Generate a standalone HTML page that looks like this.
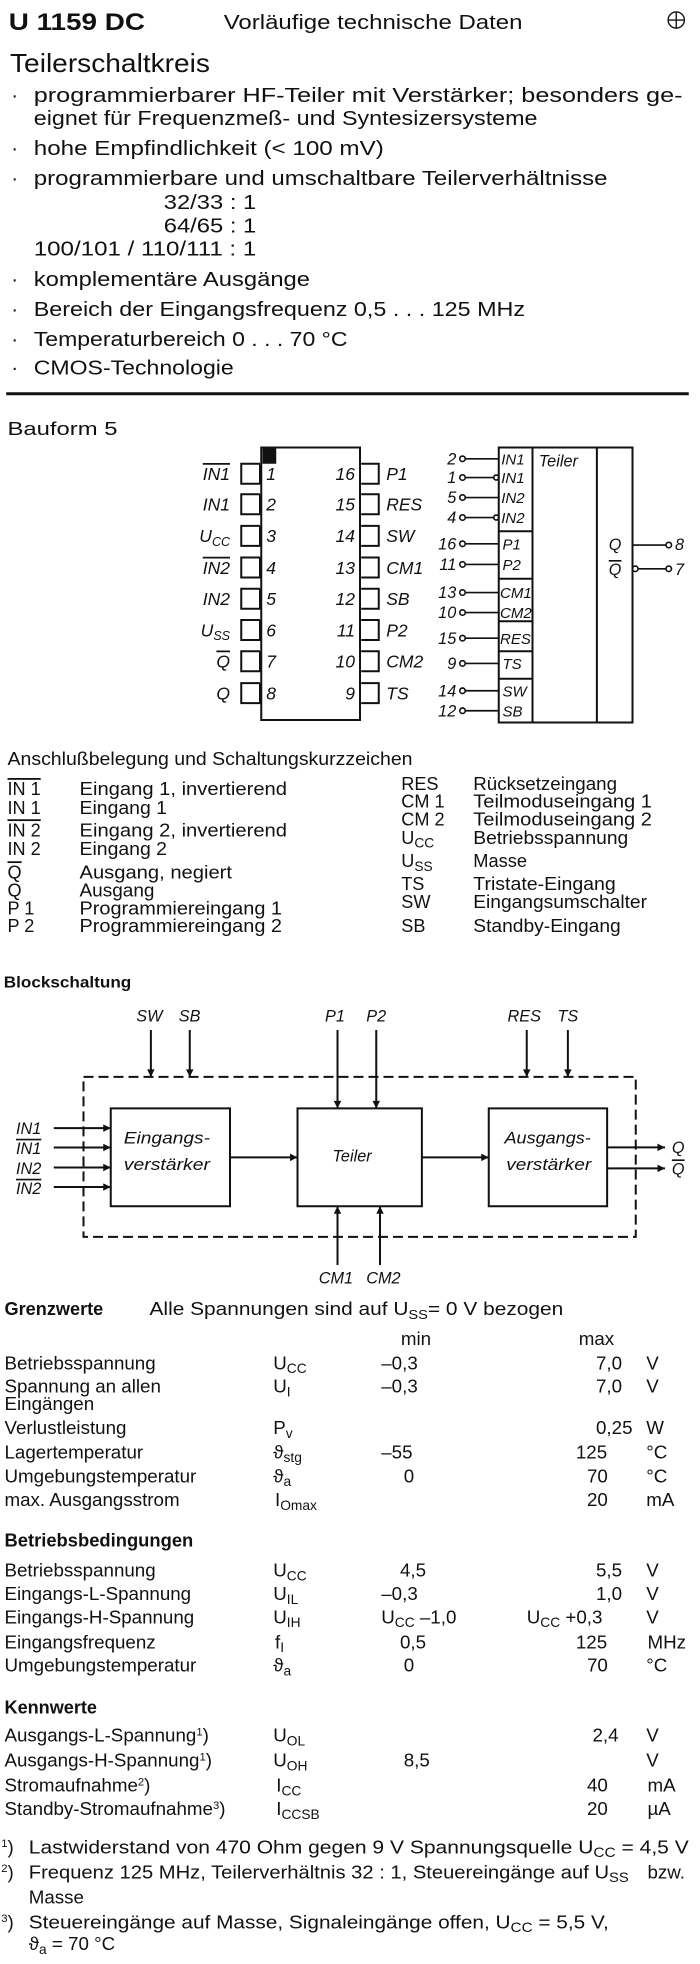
<!DOCTYPE html>
<html><head><meta charset="utf-8"><style>
html,body{margin:0;padding:0;background:#fff}
svg{display:block}
text{font-family:"Liberation Sans",sans-serif;fill:#111}
.i{font-style:italic}
.b{font-weight:bold}
.ov{text-decoration:overline}
</style></head><body>
<svg width="700" height="1964" viewBox="0 0 560 1571.2" xmlns="http://www.w3.org/2000/svg">
<defs>
<marker id="ar" viewBox="0 0 10 10" refX="10" refY="5" markerWidth="9" markerHeight="6" markerUnits="userSpaceOnUse" orient="auto"><path d="M0,0 L10,5 L0,10 z" fill="#111"/></marker>
</defs>
<!-- Header -->
<text x="7" y="24" class="b" font-size="19" textLength="109" lengthAdjust="spacingAndGlyphs">U 1159 DC</text>
<text x="179" y="23" font-size="16" textLength="239" lengthAdjust="spacingAndGlyphs">Vorläufige technische Daten</text>
<circle cx="541" cy="16" r="6.5" fill="none" stroke="#111" stroke-width="1.1"/>
<line x1="534.5" y1="16" x2="547.5" y2="16" stroke="#111" stroke-width="1.1"/>
<line x1="541" y1="9.5" x2="541" y2="22.5" stroke="#111" stroke-width="1.1"/>
<text x="8" y="57.5" font-size="21" textLength="160" lengthAdjust="spacingAndGlyphs">Teilerschaltkreis</text>
<g font-size="16.5">
<text x="9" y="81.5">·</text><text x="27" y="81.5" textLength="519" lengthAdjust="spacingAndGlyphs">programmierbarer HF-Teiler mit Verstärker; besonders ge-</text>
<text x="27" y="100" textLength="403" lengthAdjust="spacingAndGlyphs">eignet für Frequenzmeß- und Syntesizersysteme</text>
<text x="9" y="124">·</text><text x="27" y="124" textLength="280" lengthAdjust="spacingAndGlyphs">hohe Empfindlichkeit (&lt; 100 mV)</text>
<text x="9" y="148">·</text><text x="27" y="148" textLength="459" lengthAdjust="spacingAndGlyphs">programmierbare und umschaltbare Teilerverhältnisse</text>
<text x="131" y="167" textLength="74" lengthAdjust="spacingAndGlyphs">32/33 : 1</text>
<text x="131" y="186" textLength="74" lengthAdjust="spacingAndGlyphs">64/65 : 1</text>
<text x="27" y="204.5" textLength="178" lengthAdjust="spacingAndGlyphs">100/101 / 110/111 : 1</text>
<text x="9" y="228.6">·</text><text x="27" y="228.6" textLength="221" lengthAdjust="spacingAndGlyphs">komplementäre Ausgänge</text>
<text x="9" y="252.7">·</text><text x="27" y="252.7" textLength="393" lengthAdjust="spacingAndGlyphs">Bereich der Eingangsfrequenz 0,5 . . . 125 MHz</text>
<text x="9" y="276.7">·</text><text x="27" y="276.7" textLength="251" lengthAdjust="spacingAndGlyphs">Temperaturbereich 0 . . . 70 °C</text>
<text x="9" y="299.5">·</text><text x="27" y="299.5" textLength="160" lengthAdjust="spacingAndGlyphs">CMOS-Technologie</text>
</g>
<line x1="5" y1="315" x2="551" y2="315" stroke="#111" stroke-width="2.4"/>

<!-- Bauform -->
<text x="6" y="348" font-size="15" textLength="88" lengthAdjust="spacingAndGlyphs">Bauform 5</text>
<g stroke="#111" stroke-width="1.6" fill="none">
<rect x="209" y="358" width="79" height="218"/>
<path d="M208,371V387H193V371H208M208,395.4V411.4H193V395.4H208M208,420.7V436.7H193V420.7H208M208,446V462H193V446H208M208,471V487H193V471H208M208,496V512H193V496H208M208,521V537H193V521H208M208,546.5V562.5H193V546.5H208"/>
<path d="M289,371H303V387H289M289,395.4H303V411.4H289M289,420.7H303V436.7H289M289,446H303V462H289M289,471H303V487H289M289,496H303V512H289M289,521H303V537H289M289,546.5H303V562.5H289"/>
</g>
<rect x="210" y="358" width="11" height="13" fill="#111"/>
<g font-size="14" class="i">
<text x="184" y="384" text-anchor="end" class="ov">IN1</text>
<text x="184" y="408.4" text-anchor="end">IN1</text>
<text x="184" y="433.7" text-anchor="end">U<tspan font-size="10" dy="3">CC</tspan></text>
<text x="184" y="459" text-anchor="end" class="ov">IN2</text>
<text x="184" y="484" text-anchor="end">IN2</text>
<text x="184" y="509" text-anchor="end">U<tspan font-size="10" dy="3">SS</tspan></text>
<text x="184" y="534" text-anchor="end" class="ov">Q</text>
<text x="184" y="559.5" text-anchor="end">Q</text>
<text x="213" y="384">1</text><text x="213" y="408.4">2</text><text x="213" y="433.7">3</text><text x="213" y="459">4</text>
<text x="213" y="484">5</text><text x="213" y="509">6</text><text x="213" y="534">7</text><text x="213" y="559.5">8</text>
<text x="284" y="384" text-anchor="end">16</text><text x="284" y="408.4" text-anchor="end">15</text><text x="284" y="433.7" text-anchor="end">14</text><text x="284" y="459" text-anchor="end">13</text>
<text x="284" y="484" text-anchor="end">12</text><text x="284" y="509" text-anchor="end">11</text><text x="284" y="534" text-anchor="end">10</text><text x="284" y="559.5" text-anchor="end">9</text>
<text x="309" y="384">P1</text><text x="309" y="408.4">RES</text><text x="309" y="433.7">SW</text><text x="309" y="459">CM1</text>
<text x="309" y="484">SB</text><text x="309" y="509">P2</text><text x="309" y="534">CM2</text><text x="309" y="559.5">TS</text>
</g>

<!-- Logic symbol -->
<g stroke="#111" stroke-width="1.6" fill="none">
<rect x="399" y="358" width="107" height="220"/>
<line x1="426" y1="358" x2="426" y2="578"/>
<line x1="477.5" y1="358" x2="477.5" y2="578"/>
<line x1="399" y1="425" x2="426" y2="425"/>
<line x1="399" y1="463" x2="426" y2="463"/>
<line x1="399" y1="497" x2="426" y2="497"/>
<line x1="399" y1="521" x2="426" y2="521"/>
<line x1="399" y1="543" x2="426" y2="543"/>
<g stroke-width="1.3">
<circle cx="370" cy="367" r="2.2"/><line x1="372.2" y1="367" x2="399" y2="367"/>
<circle cx="370" cy="382" r="2.2"/><line x1="372.2" y1="382" x2="395" y2="382"/><circle cx="397" cy="382" r="2"/>
<circle cx="370" cy="398" r="2.2"/><line x1="372.2" y1="398" x2="399" y2="398"/>
<circle cx="370" cy="414" r="2.2"/><line x1="372.2" y1="414" x2="395" y2="414"/><circle cx="397" cy="414" r="2"/>
<circle cx="370" cy="435" r="2.2"/><line x1="372.2" y1="435" x2="399" y2="435"/>
<circle cx="370" cy="451.5" r="2.2"/><line x1="372.2" y1="451.5" x2="399" y2="451.5"/>
<circle cx="370" cy="474" r="2.2"/><line x1="372.2" y1="474" x2="399" y2="474"/>
<circle cx="370" cy="490" r="2.2"/><line x1="372.2" y1="490" x2="399" y2="490"/>
<circle cx="370" cy="510.5" r="2.2"/><line x1="372.2" y1="510.5" x2="399" y2="510.5"/>
<circle cx="370" cy="530.7" r="2.2"/><line x1="372.2" y1="530.7" x2="399" y2="530.7"/>
<circle cx="370" cy="552.6" r="2.2"/><line x1="372.2" y1="552.6" x2="399" y2="552.6"/>
<circle cx="370" cy="568.6" r="2.2"/><line x1="372.2" y1="568.6" x2="399" y2="568.6"/>
<line x1="506" y1="436" x2="532.8" y2="436"/><circle cx="535" cy="436" r="2.2"/>
<circle cx="508.2" cy="455" r="2.2"/><line x1="510.4" y1="455" x2="532.8" y2="455"/><circle cx="535" cy="455" r="2.2"/>
</g>
</g>
<g font-size="13" class="i">
<text x="365" y="371.5" text-anchor="end">2</text><text x="365" y="386.5" text-anchor="end">1</text>
<text x="365" y="402.5" text-anchor="end">5</text><text x="365" y="418.5" text-anchor="end">4</text>
<text x="365" y="439.5" text-anchor="end">16</text><text x="365" y="456" text-anchor="end">11</text>
<text x="365" y="478.5" text-anchor="end">13</text><text x="365" y="494.5" text-anchor="end">10</text>
<text x="365" y="515" text-anchor="end">15</text><text x="365" y="535.2" text-anchor="end">9</text>
<text x="365" y="557" text-anchor="end">14</text><text x="365" y="573" text-anchor="end">12</text>
<g font-size="12">
<text x="401" y="371.5">IN1</text><text x="401" y="386.5">IN1</text><text x="401" y="402.5">IN2</text><text x="401" y="418.5">IN2</text>
<text x="402" y="439.5">P1</text><text x="402" y="456">P2</text>
<text x="400" y="478.5">CM1</text><text x="400" y="494.5">CM2</text>
<text x="400" y="515">RES</text><text x="402" y="535.2">TS</text>
<text x="402" y="557">SW</text><text x="402" y="573">SB</text>
</g>
<text x="431" y="373">Teiler</text>
<text x="487" y="440">Q</text>
<text x="487" y="460" class="ov">Q</text>
<text x="540" y="440">8</text><text x="540" y="460">7</text>
</g>

<!-- Legend -->
<g font-size="14.5">
<text x="6" y="612" textLength="324" lengthAdjust="spacingAndGlyphs">Anschlußbelegung und Schaltungskurzzeichen</text>
<text x="6" y="636" class="ov">IN 1</text><text x="63.6" y="636" textLength="166" lengthAdjust="spacingAndGlyphs">Eingang 1, invertierend</text>
<text x="6" y="651">IN 1</text><text x="63.6" y="651" textLength="70" lengthAdjust="spacingAndGlyphs">Eingang 1</text>
<text x="6" y="669" class="ov">IN 2</text><text x="63.6" y="669" textLength="166" lengthAdjust="spacingAndGlyphs">Eingang 2, invertierend</text>
<text x="6" y="684">IN 2</text><text x="63.6" y="684" textLength="70" lengthAdjust="spacingAndGlyphs">Eingang 2</text>
<text x="6" y="702.6" class="ov">Q</text><text x="63.6" y="702.6" textLength="122" lengthAdjust="spacingAndGlyphs">Ausgang, negiert</text>
<text x="6" y="717">Q</text><text x="63.6" y="717" textLength="60" lengthAdjust="spacingAndGlyphs">Ausgang</text>
<text x="6" y="731.5">P 1</text><text x="63.6" y="731.5" textLength="162" lengthAdjust="spacingAndGlyphs">Programmiereingang 1</text>
<text x="6" y="745.6">P 2</text><text x="63.6" y="745.6" textLength="162" lengthAdjust="spacingAndGlyphs">Programmiereingang 2</text>
<text x="321" y="632">RES</text><text x="378.6" y="632" textLength="115" lengthAdjust="spacingAndGlyphs">Rücksetzeingang</text>
<text x="321" y="646">CM 1</text><text x="378.6" y="646" textLength="143" lengthAdjust="spacingAndGlyphs">Teilmoduseingang 1</text>
<text x="321" y="660.5">CM 2</text><text x="378.6" y="660.5" textLength="143" lengthAdjust="spacingAndGlyphs">Teilmoduseingang 2</text>
<text x="321" y="675">U<tspan font-size="11" dy="3">CC</tspan></text><text x="378.6" y="675" textLength="124" lengthAdjust="spacingAndGlyphs">Betriebsspannung</text>
<text x="321" y="693.6">U<tspan font-size="11" dy="3">SS</tspan></text><text x="378.6" y="693.6" textLength="43" lengthAdjust="spacingAndGlyphs">Masse</text>
<text x="321" y="712">TS</text><text x="378.6" y="712" textLength="114" lengthAdjust="spacingAndGlyphs">Tristate-Eingang</text>
<text x="321" y="726.5">SW</text><text x="378.6" y="726.5" textLength="139" lengthAdjust="spacingAndGlyphs">Eingangsumschalter</text>
<text x="321" y="745.6">SB</text><text x="378.6" y="745.6" textLength="118" lengthAdjust="spacingAndGlyphs">Standby-Eingang</text>
</g>

<!-- Blockschaltung -->
<text x="3" y="790" class="b" font-size="12.5" textLength="102" lengthAdjust="spacingAndGlyphs">Blockschaltung</text>
<g stroke="#111" stroke-width="1.6" fill="none">
<rect x="66.8" y="861.5" width="441.8" height="128" stroke-dasharray="8,4"/>
<rect x="88.6" y="886.7" width="95.4" height="78.3"/>
<rect x="238" y="886.7" width="99.5" height="78.3"/>
<rect x="391" y="886.7" width="94.7" height="78.3"/>
<g marker-end="url(#ar)">
<line x1="120.7" y1="824" x2="120.7" y2="861.5"/>
<line x1="151.8" y1="824" x2="151.8" y2="861.5"/>
<line x1="270" y1="824" x2="270" y2="886.7"/>
<line x1="301" y1="824" x2="301" y2="886.7"/>
<line x1="421.4" y1="824" x2="421.4" y2="861.5"/>
<line x1="454.3" y1="824" x2="454.3" y2="861.5"/>
<line x1="43" y1="902.5" x2="88.6" y2="902.5"/>
<line x1="43" y1="918" x2="88.6" y2="918"/>
<line x1="43" y1="934" x2="88.6" y2="934"/>
<line x1="43" y1="949.6" x2="88.6" y2="949.6"/>
<line x1="184" y1="925.9" x2="238" y2="925.9"/>
<line x1="337.5" y1="925.9" x2="391" y2="925.9"/>
<line x1="485.7" y1="917.9" x2="532" y2="917.9"/>
<line x1="485.7" y1="934.7" x2="532" y2="934.7"/>
<line x1="270" y1="1012" x2="270" y2="965"/>
<line x1="304" y1="1012" x2="304" y2="965"/>
</g>
</g>
<g font-size="13" class="i">
<text x="109" y="817.3">SW</text><text x="143" y="817.3">SB</text>
<text x="260" y="817.3">P1</text><text x="293" y="817.3">P2</text>
<text x="406" y="817.3">RES</text><text x="446" y="817.3">TS</text>
<text x="12.8" y="907">IN1</text>
<text x="12.8" y="923" class="ov">IN1</text>
<text x="12.8" y="939">IN2</text>
<text x="12.8" y="955" class="ov">IN2</text>
<text x="99" y="914.7" textLength="69" lengthAdjust="spacingAndGlyphs">Eingangs-</text>
<text x="99" y="936" textLength="69" lengthAdjust="spacingAndGlyphs">verstärker</text>
<text x="266" y="929.3">Teiler</text>
<text x="403.6" y="914.7" textLength="69" lengthAdjust="spacingAndGlyphs">Ausgangs-</text>
<text x="405" y="936" textLength="68" lengthAdjust="spacingAndGlyphs">verstärker</text>
<text x="537.5" y="922.5">Q</text>
<text x="537.5" y="939.5" class="ov">Q</text>
<text x="255" y="1026.7">CM1</text><text x="293" y="1026.7">CM2</text>
</g>

<!-- Tables -->
<g font-size="15">
<text x="3.6" y="1052" class="b" textLength="79" lengthAdjust="spacingAndGlyphs">Grenzwerte</text>
<text x="119.6" y="1052" textLength="331" lengthAdjust="spacingAndGlyphs">Alle Spannungen sind auf U<tspan font-size="10.5" dy="3">SS</tspan><tspan dy="-3">= 0 V bezogen</tspan></text>
<text x="320.7" y="1076">min</text><text x="463" y="1076">max</text>

<text x="3.6" y="1095.5">Betriebsspannung</text><text x="218.6" y="1095.5">U<tspan font-size="11" dy="3">CC</tspan></text><text x="305" y="1095.5">–0,3</text><text x="476.8" y="1095.5">7,0</text><text x="517" y="1095.5">V</text>
<text x="3.6" y="1114">Spannung an allen</text><text x="218.6" y="1114">U<tspan font-size="11" dy="3">I</tspan></text><text x="305" y="1114">–0,3</text><text x="476.8" y="1114">7,0</text><text x="517" y="1114">V</text>
<text x="3.6" y="1128">Eingängen</text>
<text x="3.6" y="1147.2">Verlustleistung</text><text x="218.6" y="1147.2">P<tspan font-size="11" dy="3">v</tspan></text><text x="476.8" y="1147.2">0,25</text><text x="517" y="1147.2">W</text>
<text x="3.6" y="1166.7">Lagertemperatur</text><text x="218.6" y="1166.7">ϑ<tspan font-size="11" dy="3">stg</tspan></text><text x="305" y="1166.7">–55</text><text x="460.7" y="1166.7">125</text><text x="517" y="1166.7">°C</text>
<text x="3.6" y="1185.9">Umgebungstemperatur</text><text x="218.6" y="1185.9">ϑ<tspan font-size="11" dy="3">a</tspan></text><text x="323" y="1185.9">0</text><text x="469.6" y="1185.9">70</text><text x="517" y="1185.9">°C</text>
<text x="3.6" y="1204.8">max. Ausgangsstrom</text><text x="220" y="1204.8">I<tspan font-size="11" dy="3">Omax</tspan></text><text x="469.6" y="1204.8">20</text><text x="517" y="1204.8">mA</text>

<text x="3.6" y="1237.3" class="b" textLength="151" lengthAdjust="spacingAndGlyphs">Betriebsbedingungen</text>
<text x="3.6" y="1261.3">Betriebsspannung</text><text x="218.6" y="1261.3">U<tspan font-size="11" dy="3">CC</tspan></text><text x="320" y="1261.3">4,5</text><text x="476.8" y="1261.3">5,5</text><text x="517" y="1261.3">V</text>
<text x="3.6" y="1280">Eingangs-L-Spannung</text><text x="218.6" y="1280">U<tspan font-size="11" dy="3">IL</tspan></text><text x="305" y="1280">–0,3</text><text x="476.8" y="1280">1,0</text><text x="517" y="1280">V</text>
<text x="3.6" y="1298.7">Eingangs-H-Spannung</text><text x="218.6" y="1298.7">U<tspan font-size="11" dy="3">IH</tspan></text><text x="305" y="1298.7">U<tspan font-size="11" dy="3">CC</tspan><tspan dy="-3"> –1,0</tspan></text><text x="421.4" y="1298.7">U<tspan font-size="11" dy="3">CC</tspan><tspan dy="-3"> +0,3</tspan></text><text x="517" y="1298.7">V</text>
<text x="3.6" y="1318.7">Eingangsfrequenz</text><text x="220" y="1318.7">f<tspan font-size="11" dy="3">I</tspan></text><text x="320" y="1318.7">0,5</text><text x="460.7" y="1318.7">125</text><text x="518" y="1318.7">MHz</text>
<text x="3.6" y="1337.3">Umgebungstemperatur</text><text x="218.6" y="1337.3">ϑ<tspan font-size="11" dy="3">a</tspan></text><text x="323" y="1337.3">0</text><text x="469.6" y="1337.3">70</text><text x="517" y="1337.3">°C</text>

<text x="3.6" y="1370.7" class="b" textLength="74" lengthAdjust="spacingAndGlyphs">Kennwerte</text>
<text x="3.6" y="1393.3">Ausgangs-L-Spannung<tspan font-size="9" dy="-5">1</tspan><tspan dy="5">)</tspan></text><text x="218.6" y="1393.3">U<tspan font-size="11" dy="3">OL</tspan></text><text x="474" y="1393.3">2,4</text><text x="517" y="1393.3">V</text>
<text x="3.6" y="1413.3">Ausgangs-H-Spannung<tspan font-size="9" dy="-5">1</tspan><tspan dy="5">)</tspan></text><text x="218.6" y="1413.3">U<tspan font-size="11" dy="3">OH</tspan></text><text x="323" y="1413.3">8,5</text><text x="517" y="1413.3">V</text>
<text x="3.6" y="1433.3">Stromaufnahme<tspan font-size="9" dy="-5">2</tspan><tspan dy="5">)</tspan></text><text x="221" y="1433.3">I<tspan font-size="11" dy="3">CC</tspan></text><text x="469.6" y="1433.3">40</text><text x="518" y="1433.3">mA</text>
<text x="3.6" y="1452">Standby-Stromaufnahme<tspan font-size="9" dy="-5">3</tspan><tspan dy="5">)</tspan></text><text x="221" y="1452">I<tspan font-size="11" dy="3">CCSB</tspan></text><text x="469.6" y="1452">20</text><text x="518" y="1452">µA</text>

<text x="1" y="1482.7"><tspan font-size="9" dy="-5">1</tspan><tspan dy="5">)</tspan></text>
<text x="23" y="1482.7" textLength="528" lengthAdjust="spacingAndGlyphs">Lastwiderstand von 470 Ohm gegen 9 V Spannungsquelle U<tspan font-size="11" dy="3">CC</tspan><tspan dy="-3"> = 4,5 V</tspan></text>
<text x="1" y="1502.7"><tspan font-size="9" dy="-5">2</tspan><tspan dy="5">)</tspan></text>
<text x="23" y="1502.7" textLength="480" lengthAdjust="spacingAndGlyphs">Frequenz 125 MHz, Teilerverhältnis 32 : 1, Steuereingänge auf U<tspan font-size="11" dy="3">SS</tspan></text>
<text x="518" y="1502.7">bzw.</text>
<text x="23" y="1522.7">Masse</text>
<text x="1" y="1542.7"><tspan font-size="9" dy="-5">3</tspan><tspan dy="5">)</tspan></text>
<text x="23" y="1542.7" textLength="464" lengthAdjust="spacingAndGlyphs">Steuereingänge auf Masse, Signaleingänge offen, U<tspan font-size="11" dy="3">CC</tspan><tspan dy="-3"> = 5,5 V,</tspan></text>
<text x="23" y="1560">ϑ<tspan font-size="11" dy="3">a</tspan><tspan dy="-3"> = 70 °C</tspan></text>
</g>
</svg>
</body></html>
